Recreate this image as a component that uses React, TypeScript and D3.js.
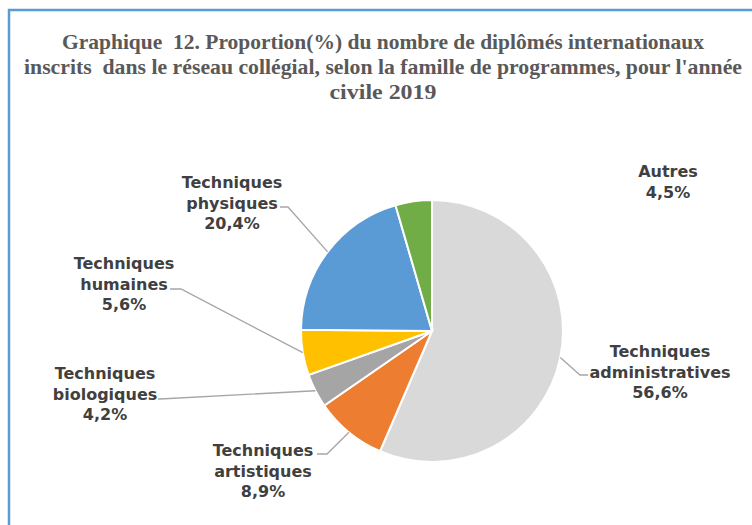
// App.tsx
// Pie chart: international graduates by program family, 2019
import React from "react";
import * as d3 from "d3";

const categories = [
  "Techniques administratives",
  "Techniques artistiques",
  "Techniques biologiques",
  "Techniques humaines",
  "Techniques physiques",
  "Autres",
];
const values = [56.6, 8.9, 4.2, 5.6, 20.4, 4.5];
const valueLabels = ["56,6%", "8,9%", "4,2%", "5,6%", "20,4%", "4,5%"];
const colors = ["#d9d9d9", "#ed7d31", "#a5a5a5", "#ffc000", "#5b9bd5", "#70ad47"];
const titleLines = [
  "Graphique  12. Proportion(%) du nombre de diplômés internationaux",
  "inscrits  dans le réseau collégial, selon la famille de programmes, pour l'année",
  "civile 2019",
];

const W = 752, H = 525;
const cx = 432, cy = 331, R = 131;

// title line widths (px) as measured on the original
const titleWidths = [642, 718, 107];

// label layout: center x, first baseline y, and leader anchor (elbow + end near text)
const labelLayout = [
  { x: 660, y: 357, lines: ["Techniques", "administratives"], elbow: [580, 375], end: [588, 375] },
  { x: 263, y: 456, lines: ["Techniques", "artistiques"], elbow: [327, 454], end: [317, 454] },
  { x: 105, y: 379, lines: ["Techniques", "biologiques"], elbow: [160, 399], end: [158, 399] },
  { x: 124, y: 269, lines: ["Techniques", "humaines"], elbow: [181, 289], end: [170, 289] },
  { x: 232, y: 188, lines: ["Techniques", "physiques"], elbow: [288, 207], end: [280, 207] },
  { x: 668, y: 177, lines: ["Autres"], elbow: null, end: null },
];

export default function App() {
  const pie = d3.pie<number>().sort(null).value((d) => d);
  const arcs = pie(values);
  const arc = d3.arc<d3.PieArcDatum<number>>().innerRadius(0).outerRadius(R);
  const lineGen = d3.line();

  return (
    <div style={{ position: "fixed", left: 0, top: 0, width: W, height: H, background: "#fff" }}>
      <svg width={W} height={H} style={{ display: "block" }}>
        <rect x={9} y={10} width={W + 20} height={H + 20} fill="#fff" stroke="#5b9bd5" strokeWidth={2.5} />
        {titleLines.map((t, i) => (
          <text
            key={i}
            x={383}
            y={49 + i * 25}
            textAnchor="middle"
            fontFamily="'Liberation Serif', 'Times New Roman', serif"
            fontWeight="bold"
            fontSize={21}
            fill="#595959"
            textLength={titleWidths[i]}
            lengthAdjust="spacingAndGlyphs"
            style={{ whiteSpace: "pre" }}
          >
            {t}
          </text>
        ))}
        <g transform={`translate(${cx},${cy})`}>
          {arcs.map((a, i) => (
            <path key={categories[i]} d={arc(a) || ""} fill={colors[i]} stroke="#fff" strokeWidth={2} />
          ))}
        </g>
        {arcs.map((a, i) => {
          const L = labelLayout[i];
          if (!L.elbow || !L.end) return null;
          const mid = (a.startAngle + a.endAngle) / 2;
          const p: [number, number] = [cx + R * Math.sin(mid), cy - R * Math.cos(mid)];
          return (
            <path
              key={"l" + i}
              d={lineGen([p, L.elbow as [number, number], L.end as [number, number]]) || ""}
              fill="none"
              stroke="#a6a6a6"
              strokeWidth={1.3}
            />
          );
        })}
        {labelLayout.map((L, i) => (
          <text
            key={"t" + i}
            textAnchor="middle"
            fontFamily="'DejaVu Sans', Verdana, sans-serif"
            fontWeight="bold"
            fontSize={16}
            fill="#404040"
          >
            {[...L.lines, valueLabels[i]].map((s, j) => (
              <tspan key={j} x={L.x} y={L.y + j * 20.5}>
                {s}
              </tspan>
            ))}
          </text>
        ))}
      </svg>
    </div>
  );
}
